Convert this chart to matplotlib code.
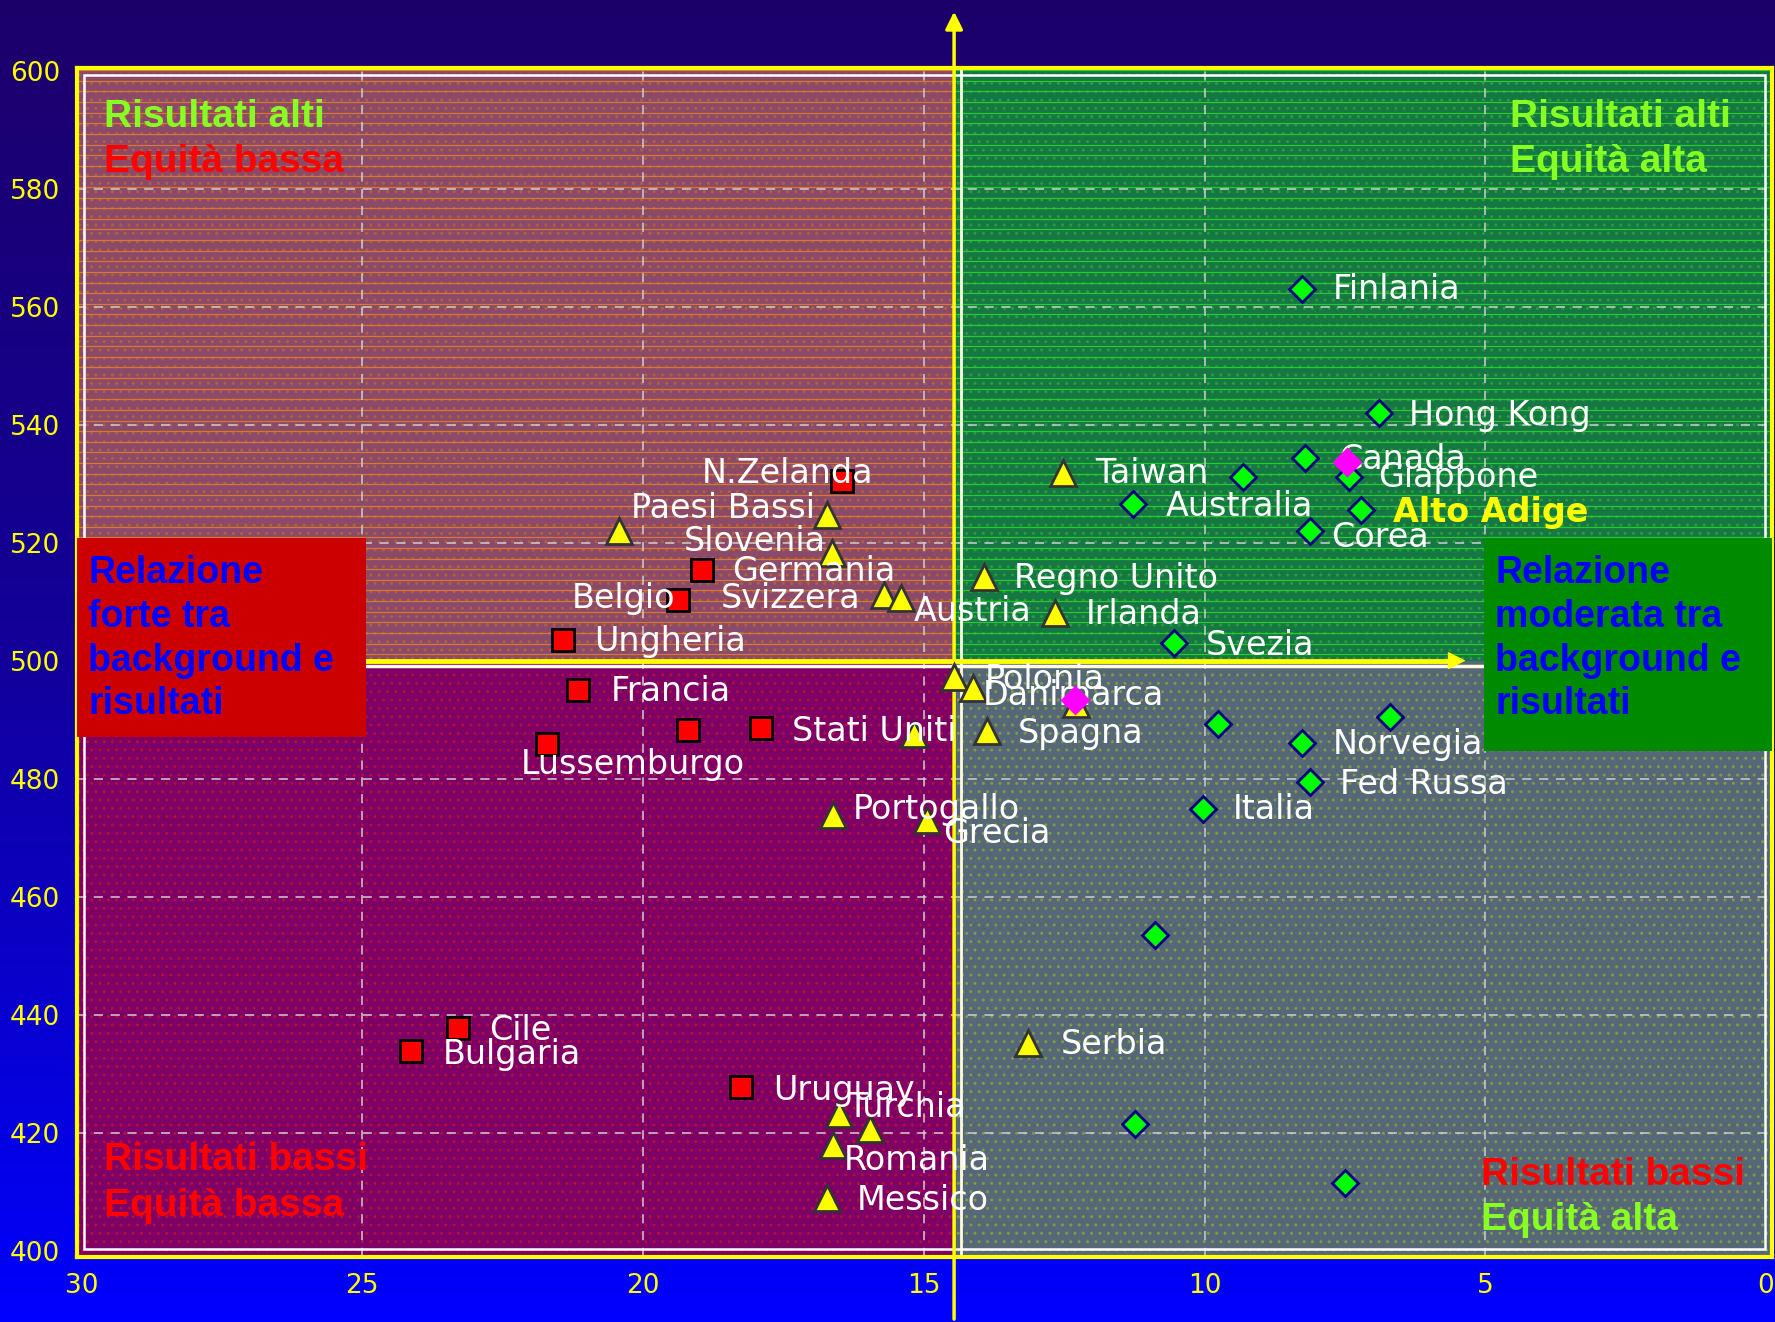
import numpy as np
import matplotlib
matplotlib.use('Agg')
import matplotlib.pyplot as plt
from matplotlib.patches import Rectangle, FancyArrowPatch
from matplotlib.colors import LinearSegmentedColormap

# ---------------- data ----------------
# Relazione forte (red squares)
sq_x = [16.45, 18.95, 19.37, 21.43, 21.15, 19.2, 17.9, 21.71, 23.29, 24.13, 18.25]
sq_y = [530.5, 515.5, 510.4, 503.6, 495.2, 488.3, 488.7, 486.0, 437.8, 434.0, 427.8]
# Relazione media (yellow triangles)
tri_x = [16.73, 20.42, 16.63, 15.71, 15.40, 13.93, 12.66, 12.52, 14.46, 14.13,
         12.28, 15.18, 13.87, 16.61, 14.94, 13.15, 16.51, 15.95, 16.61, 16.73]
tri_y = [524.8, 522.1, 518.4, 511.3, 510.7, 514.2, 508.1, 531.9, 497.3, 495.4,
         492.7, 487.7, 488.1, 473.9, 473.1, 435.3, 423.2, 420.7, 417.9, 409.0]
# Relazione moderata (green diamonds)
dia_x = [8.27, 6.9, 8.21, 7.42, 9.31, 11.27, 7.22, 8.12, 10.54, 9.76, 6.69,
         8.27, 8.12, 10.02, 10.89, 11.23, 7.5]
dia_y = [563.1, 542.0, 534.4, 531.3, 531.3, 526.7, 525.7, 522.1, 503.1, 489.3, 490.6,
         486.2, 479.5, 475.0, 453.6, 421.5, 411.5]
# highlighted (magenta)
mag_x = [7.46, 12.3]
mag_y = [533.8, 493.5]

# country labels and their anchor points
lab_text = ['N.Zelanda', 'Paesi Bassi', 'Slovenia', 'Germania', 'Belgio', 'Svizzera',
            'Ungheria', 'Austria', 'Regno Unito', 'Irlanda', 'Taiwan', 'Australia',
            'Finlania', 'Hong Kong', 'Canada', 'Giappone', 'Corea', 'Svezia',
            'Polonia', 'Danimarca', 'Francia', 'Stati Uniti', 'Spagna', 'Lussemburgo',
            'Norvegia', 'Fed Russa', 'Portogallo', 'Italia', 'Grecia', 'Serbia',
            'Cile', 'Bulgaria', 'Uruguay', 'Turchia', 'Romania', 'Messico']
lab_x = [18.95, 20.22, 19.27, 18.41, 21.27, 18.61, 20.87, 15.18, 13.39, 12.12, 11.94, 10.69,
         7.72, 6.35, 7.6, 6.9, 7.74, 9.98, 13.91, 13.95, 20.58, 17.34, 13.33, 22.18,
         7.72, 7.58, 16.27, 9.5, 14.66, 12.56, 22.74, 23.57, 17.68, 16.37, 16.43, 16.19]
lab_y = [531.9, 525.9, 520.3, 515.2, 510.6, 510.7, 503.3, 508.4, 514.0, 507.9, 531.9, 526.3,
         563.0, 541.7, 534.2, 531.1, 520.9, 502.7, 496.9, 494.2, 494.8, 488.1, 487.7, 482.5,
         485.8, 479.1, 474.9, 474.9, 470.8, 435.1, 437.4, 433.4, 427.3, 424.4, 415.4, 408.6]
region_text = 'Alto Adige'
region_pos = (6.65, 525.3)

x_ticks = [30, 25, 20, 15, 10, 5, 0]
y_ticks = [400, 420, 440, 460, 480, 500, 520, 540, 560, 580, 600]

# ---------------- layout constants ----------------
XL, XR = 30.08, -0.1
YB, YT = 399.07, 600.56
VX, HY = 14.46, 500.0

BOLDF = ['Liberation Sans', 'DejaVu Sans']

fig = plt.figure(figsize=(17.75, 13.22), dpi=100)

# background gradient
bg = fig.add_axes([0, 0, 1, 1], zorder=-10)
bg.axis('off')
grad = np.linspace(0, 1, 256).reshape(-1, 1)
cmap = LinearSegmentedColormap.from_list('bg', ['#1c006a', '#12009a', '#0000ff'])
bg.imshow(grad, aspect='auto', cmap=cmap, extent=[0, 1, 0, 1], origin='upper')

ax = fig.add_axes([0.0434, 0.0495, 0.9547, 0.899])
ax.set_xlim(XL, XR)
ax.set_ylim(YB, YT)
ax.set_facecolor('none')

plt.rcParams['hatch.linewidth'] = 1.0

quads = [
    ((VX, HY), XL - VX, YT - HY, '#8c4a6a', '#b0603e'),
    ((XR, HY), VX - XR, YT - HY, '#157842', '#2a9a40'),
    ((VX, YB), XL - VX, HY - YB, '#7e0066', '#b0103a'),
    ((XR, YB), VX - XR, HY - YB, '#566878', '#7e9a44'),
]
for (xy, w, h, fc, dc) in quads:
    ax.add_patch(Rectangle(xy, w, h, facecolor=fc, edgecolor='none', zorder=0.5))
    ax.add_patch(Rectangle(xy, w, h, facecolor='none', edgecolor=dc, lw=0,
                           hatch='..', zorder=0.6))

stripe_y = np.arange(501.2, 600.5, 1.8)
ax.hlines(stripe_y, VX, XL, colors='#d8782e', lw=0.9, zorder=0.7)
ax.hlines(stripe_y, XR, VX, colors='#28c830', lw=0.9, zorder=0.7)

# grid
for gx in [25, 20, 15, 10, 5]:
    ax.axvline(gx, color='#cfcfcf', lw=1.1, ls=(0, (6, 5)), zorder=1)
for gy in [420, 440, 460, 480, 520, 540, 560, 580]:
    ax.axhline(gy, color='#cfcfcf', lw=1.1, ls=(0, (6, 5)), zorder=1)

# quadrant dividers
ax.axvline(VX - 0.13, color='#fffbe0', lw=2, zorder=2)
ax.axhline(HY - 0.8, color='#fffbe0', lw=2.5, zorder=2)
ax.plot([XL, 5.6], [HY + 0.1, HY + 0.1], color='#ffff00', lw=3.5, zorder=2.1,
        solid_capstyle='butt')
ax.add_patch(FancyArrowPatch((6.0, HY + 0.1), (5.3, HY + 0.1), arrowstyle='-|>',
                             mutation_scale=28, color='#ffff00', lw=1, zorder=2.1))
ax.add_patch(FancyArrowPatch((VX, 388.0), (VX, 610.6), arrowstyle='-|>',
                             mutation_scale=26, color='#ffff00', lw=2.5,
                             zorder=2.2, clip_on=False))

# frame
for s in ax.spines.values():
    s.set_color('#ffff00')
    s.set_linewidth(3)
ax.add_patch(Rectangle((0.004, 0.006), 0.992, 0.988, transform=ax.transAxes,
                       fill=False, edgecolor='#ffffff', lw=1.8, zorder=2))

# relation boxes
ax.add_patch(Rectangle((24.94, 487.1), XL - 24.94, 520.9 - 487.1,
                       facecolor='#cc0000', edgecolor='none', zorder=3))
ax.add_patch(Rectangle((XR, 484.8), 5.02 - XR, 520.9 - 484.8,
                       facecolor='#008a00', edgecolor='none', zorder=3))
ax.text(29.88, 503.8, 'Relazione\nforte tra\nbackground e\nrisultati', color='#0000ff',
        fontsize=27, fontweight='bold', family=BOLDF, ha='left', va='center',
        linespacing=1.27, zorder=3.5)
ax.text(4.82, 503.8, 'Relazione\nmoderata tra\nbackground e\nrisultati', color='#0000ff',
        fontsize=27, fontweight='bold', family=BOLDF, ha='left', va='center',
        linespacing=1.27, zorder=3.5)

# corner texts
GREEN_T, RED_T = '#88ff22', '#ff0000'
corner = [
    (29.6, 592.3, 'Risultati alti', GREEN_T), (29.6, 584.6, 'Equità bassa', RED_T),
    (4.56, 592.3, 'Risultati alti', GREEN_T), (4.56, 584.6, 'Equità alta', GREEN_T),
    (29.6, 415.4, 'Risultati bassi', RED_T), (29.6, 407.7, 'Equità bassa', RED_T),
    (5.08, 412.9, 'Risultati bassi', RED_T), (5.08, 405.2, 'Equità alta', GREEN_T),
]
for (cx, cy, t, c) in corner:
    ax.text(cx, cy, t, color=c, fontsize=28, fontweight='bold', family=BOLDF,
            ha='left', va='center', zorder=3.5)

# markers
ax.plot(sq_x, sq_y, 's', ms=16, mfc='#ff0000', mec='#000000', mew=2, ls='none', zorder=4)
ax.plot(tri_x, tri_y, '^', ms=19, mfc='#ffff00', mec='#333333', mew=2, ls='none', zorder=4)
ax.plot(dia_x, dia_y, 'D', ms=13, mfc='#00ff00', mec='#000080', mew=2, ls='none', zorder=4)

for t, lx, ly in zip(lab_text, lab_x, lab_y):
    ax.text(lx, ly, t, color='white', fontsize=24, family='DejaVu Sans',
            ha='left', va='center', zorder=5)
ax.text(region_pos[0], region_pos[1], region_text, color='#ffff00', fontsize=24,
        fontweight='bold', family='DejaVu Sans', ha='left', va='center', zorder=5)

ax.plot(mag_x, mag_y, 'D', ms=15, mfc='#ff00ff', mec='none', ls='none', zorder=6)

# ticks
ax.set_xticks(x_ticks)
ax.set_xticklabels([str(v) for v in x_ticks])
ax.set_yticks(y_ticks)
ax.set_yticklabels([str(v) for v in y_ticks])
ax.tick_params(axis='both', length=0, labelcolor='#ffff00', labelsize=19)
ax.tick_params(axis='y', pad=12)
ax.tick_params(axis='x', pad=12)
for lbl in ax.get_xticklabels() + ax.get_yticklabels():
    lbl.set_family('DejaVu Sans')

fig.savefig('out.png', dpi=100)
